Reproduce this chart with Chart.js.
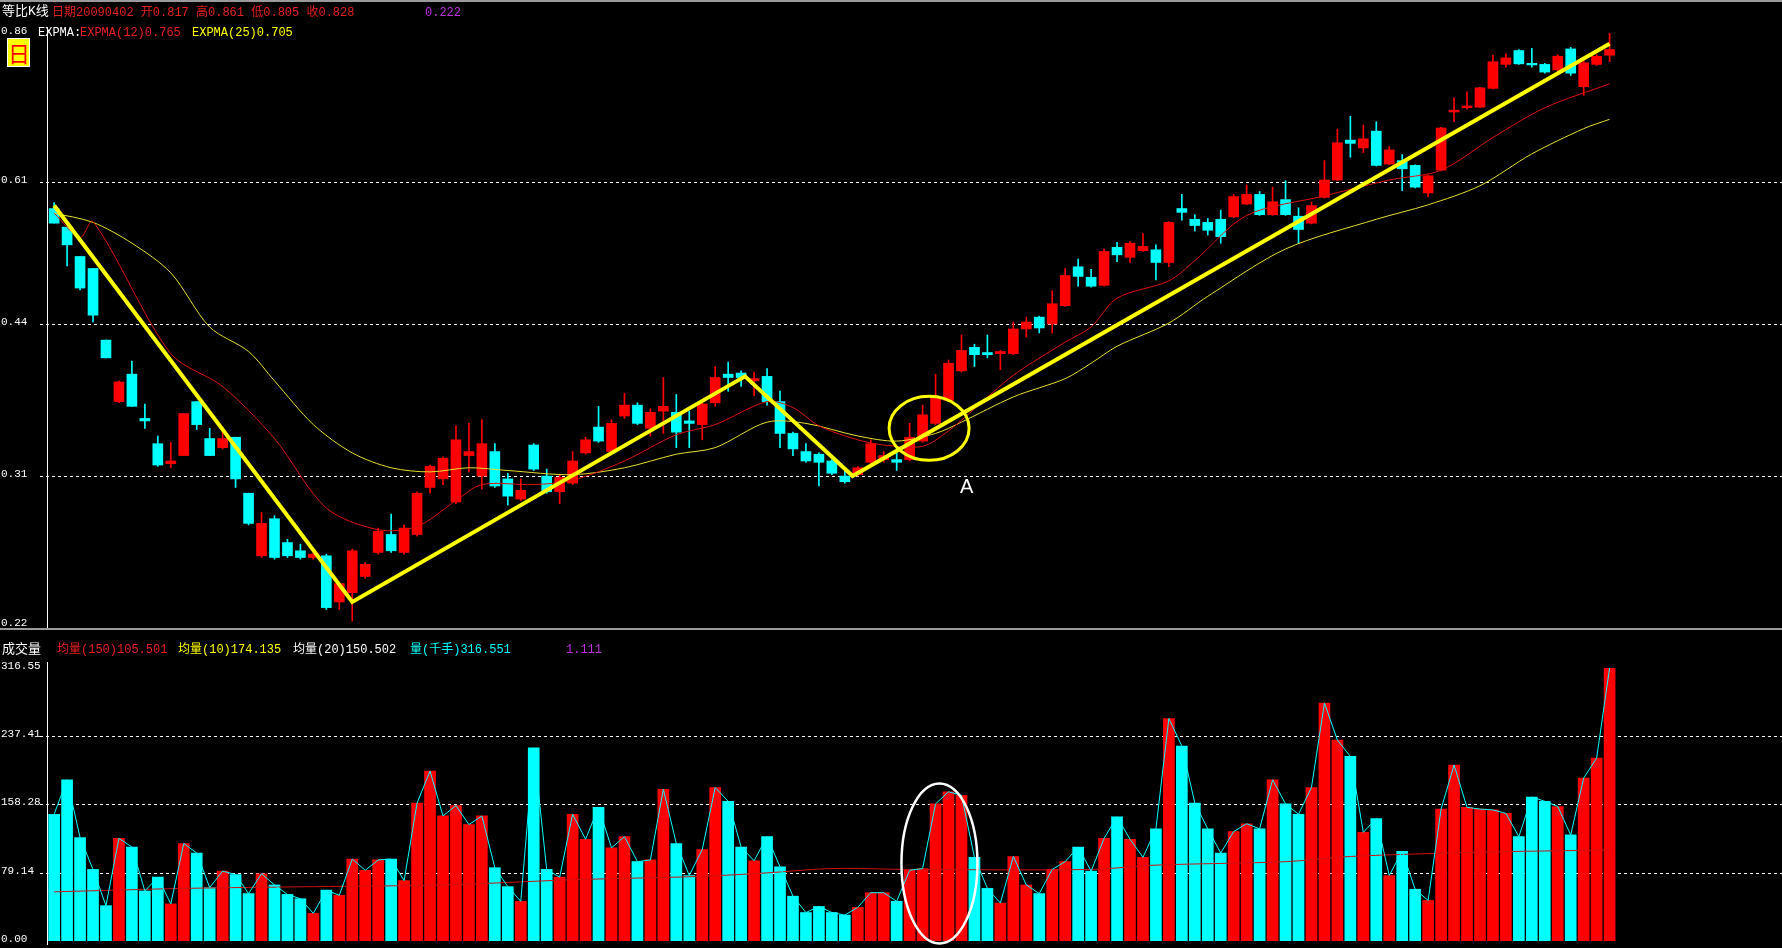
<!DOCTYPE html>
<html><head><meta charset="utf-8">
<script src="https://cdn.jsdelivr.net/npm/chart.js@4"></script>
<style>
html,body{margin:0;padding:0;background:#000;width:1782px;height:948px;overflow:hidden}
#c1{position:absolute;left:0;top:0}
#c2{position:absolute;left:0;top:630px}
.t{position:absolute;font:12px "Liberation Mono","Noto Sans CJK SC",monospace;white-space:pre;line-height:14px}
#sep{position:absolute;left:0;top:628px;width:1782px;height:2px;background:#9a9a9a}
#topb{position:absolute;left:0;top:0;width:1782px;height:2px;background:#9a9a9a}
#ri{position:absolute;left:7px;top:38px;width:21px;height:27px;background:#ffff00;border:1px solid #fff;color:#f00;font:22px "Noto Sans CJK SC";text-align:center;line-height:27px}
</style></head><body>
<canvas id="c1" width="1782" height="630"></canvas>
<canvas id="c2" width="1782" height="318"></canvas>
<div id="topb"></div><div id="sep"></div>
<div class="t" style="left:2px;top:5px;color:#fff;font-size:13px">等比K线</div>
<div class="t" style="left:52px;top:6px;color:#e82020">日期20090402 开0.817 高0.861 低0.805 收0.828</div>
<div class="t" style="left:425px;top:6px;color:#c030e0">0.222</div>
<div class="t" style="left:38px;top:26px;color:#fff">EXPMA:</div>
<div class="t" style="left:80px;top:26px;color:#e82020">EXPMA(12)0.765</div>
<div class="t" style="left:192px;top:26px;color:#ffff00">EXPMA(25)0.705</div>
<div id="ri">日</div>
<div class="t" style="left:2px;top:643px;color:#fff;font-size:13px">成交量</div>
<div class="t" style="left:57px;top:643px;color:#e82020">均量(150)105.501</div>
<div class="t" style="left:178px;top:643px;color:#ffff00">均量(10)174.135</div>
<div class="t" style="left:293px;top:643px;color:#fff">均量(20)150.502</div>
<div class="t" style="left:410px;top:643px;color:#00ffff">量(千手)316.551</div>
<div class="t" style="left:566px;top:643px;color:#c030e0">1.111</div>
<script>
const opens=[0.574,0.550,0.514,0.500,0.424,0.368,0.392,0.354,0.334,0.319,0.325,0.368,0.338,0.331,0.339,0.298,0.258,0.281,0.266,0.261,0.257,0.258,0.232,0.237,0.246,0.260,0.271,0.260,0.271,0.302,0.308,0.292,0.325,0.310,0.328,0.308,0.294,0.333,0.310,0.299,0.305,0.327,0.347,0.328,0.356,0.365,0.346,0.360,0.359,0.352,0.349,0.367,0.392,0.393,0.386,0.390,0.368,0.342,0.328,0.326,0.321,0.310,0.311,0.320,0.322,0.322,0.322,0.336,0.350,0.369,0.395,0.417,0.412,0.411,0.411,0.435,0.447,0.440,0.459,0.502,0.490,0.481,0.525,0.513,0.521,0.522,0.507,0.574,0.560,0.556,0.560,0.563,0.580,0.593,0.566,0.586,0.564,0.555,0.589,0.613,0.672,0.660,0.686,0.636,0.641,0.634,0.595,0.627,0.717,0.724,0.725,0.757,0.800,0.826,0.802,0.800,0.790,0.829,0.760,0.800,0.817];
const closes=[0.555,0.528,0.478,0.449,0.407,0.385,0.364,0.352,0.318,0.321,0.358,0.349,0.325,0.338,0.308,0.278,0.278,0.257,0.258,0.257,0.259,0.229,0.242,0.261,0.253,0.273,0.261,0.275,0.298,0.317,0.323,0.337,0.328,0.334,0.303,0.296,0.300,0.315,0.299,0.309,0.321,0.337,0.336,0.350,0.365,0.350,0.359,0.364,0.343,0.350,0.366,0.389,0.389,0.389,0.388,0.368,0.342,0.330,0.321,0.320,0.312,0.306,0.316,0.334,0.325,0.320,0.339,0.357,0.371,0.402,0.414,0.410,0.410,0.413,0.435,0.442,0.436,0.461,0.492,0.491,0.480,0.520,0.516,0.530,0.526,0.507,0.556,0.569,0.552,0.546,0.538,0.590,0.593,0.566,0.583,0.566,0.547,0.578,0.613,0.668,0.667,0.674,0.634,0.657,0.629,0.603,0.619,0.691,0.720,0.727,0.758,0.805,0.812,0.801,0.799,0.786,0.815,0.784,0.803,0.815,0.828];
const highs=[0.582,0.550,0.514,0.500,0.424,0.386,0.404,0.366,0.340,0.335,0.358,0.368,0.346,0.347,0.339,0.298,0.285,0.283,0.268,0.265,0.260,0.259,0.243,0.262,0.254,0.275,0.284,0.277,0.299,0.318,0.324,0.348,0.350,0.353,0.334,0.312,0.308,0.334,0.315,0.311,0.328,0.339,0.364,0.353,0.375,0.367,0.362,0.389,0.374,0.360,0.369,0.399,0.403,0.395,0.394,0.397,0.377,0.343,0.334,0.327,0.322,0.315,0.317,0.337,0.328,0.331,0.350,0.365,0.392,0.405,0.429,0.420,0.429,0.414,0.442,0.447,0.448,0.475,0.500,0.511,0.499,0.523,0.531,0.532,0.542,0.528,0.557,0.593,0.566,0.561,0.572,0.593,0.606,0.597,0.603,0.612,0.575,0.583,0.641,0.689,0.710,0.696,0.701,0.662,0.650,0.635,0.620,0.692,0.741,0.751,0.759,0.817,0.820,0.828,0.830,0.802,0.818,0.832,0.806,0.818,0.861];
const lows=[0.555,0.503,0.476,0.442,0.407,0.367,0.364,0.346,0.317,0.316,0.325,0.345,0.325,0.330,0.302,0.277,0.257,0.256,0.257,0.256,0.256,0.228,0.228,0.222,0.245,0.259,0.260,0.259,0.270,0.298,0.304,0.291,0.313,0.301,0.302,0.290,0.293,0.314,0.298,0.291,0.304,0.326,0.335,0.327,0.354,0.349,0.340,0.342,0.331,0.331,0.337,0.364,0.377,0.381,0.373,0.365,0.331,0.325,0.320,0.303,0.311,0.305,0.310,0.319,0.320,0.314,0.321,0.335,0.349,0.368,0.394,0.399,0.407,0.396,0.410,0.427,0.431,0.431,0.458,0.480,0.479,0.480,0.508,0.507,0.520,0.487,0.502,0.559,0.545,0.540,0.530,0.562,0.579,0.565,0.565,0.565,0.530,0.554,0.588,0.612,0.646,0.653,0.633,0.635,0.598,0.602,0.590,0.626,0.701,0.722,0.724,0.756,0.795,0.800,0.795,0.784,0.788,0.780,0.745,0.798,0.805];
const volumes=[147,187,120,83,41,119,109,58,74,43,113,102,62,81,77,55,78,65,54,49,32,59,53,95,82,94,95,70,160,197,145,157,135,145,85,63,46,224,83,74,147,118,155,108,121,92,94,176,113,76,106,178,162,109,93,121,86,52,33,40,33,30,39,56,56,46,82,84,159,173,169,97,61,44,98,65,55,83,92,109,81,119,144,118,97,130,258,226,160,130,102,127,136,130,187,159,147,178,276,233,214,126,142,76,104,60,47,153,204,155,153,152,148,121,167,162,156,123,189,212,316.55];
const ema12=[[0,0.568],[2,0.537],[3,0.557],[9,0.411],[13,0.381],[17,0.338],[21,0.288],[25,0.274],[28,0.276],[31,0.293],[33,0.304],[37,0.304],[40,0.307],[44,0.321],[48,0.341],[51,0.349],[55,0.368],[57,0.363],[59,0.348],[62,0.337],[64,0.333],[67,0.332],[69,0.344],[71,0.362],[74,0.391],[78,0.422],[80,0.437],[82,0.467],[86,0.486],[88,0.509],[92,0.565],[98,0.591],[103,0.613],[107,0.627],[111,0.676],[115,0.724],[120,0.765]];
const ema25=[[0,0.568],[3,0.556],[6,0.530],[9,0.495],[12,0.437],[15,0.413],[17,0.386],[20,0.349],[23,0.327],[26,0.316],[29,0.313],[32,0.316],[35,0.314],[40,0.311],[44,0.316],[48,0.326],[51,0.331],[55,0.351],[58,0.350],[62,0.340],[65,0.336],[68,0.342],[70,0.351],[74,0.372],[78,0.388],[80,0.402],[82,0.418],[86,0.441],[89,0.469],[95,0.523],[102,0.560],[106,0.579],[110,0.605],[114,0.651],[118,0.690],[120,0.705]];
const trendPts=[[0,0.578],[23,0.232],[53.3,0.390],[61.6,0.310],[120,0.839]];
const volMa150=[[0,57],[10,61],[20,63],[30,65],[40,71],[50,75],[55,79],[60,84],[66,83],[80,83],[85,88],[95,92],[100,98],[110,103],[120,105.5]];
const priceTicks=[0.22,0.31,0.44,0.61,0.86];
const volTicks=[0,79.14,158.28,237.41,316.55];
const volTickLabels=['0.00','79.14','158.28','237.41','316.55'];

const RED='#ff0000',CYAN='#00ffff',YEL='#ffff00';
const up=opens.map((o,i)=>closes[i]>=o);
const col=up.map(u=>u?RED:CYAN);
const xScale={type:'linear',min:-0.55,max:133.3,display:false,offset:false,bounds:'ticks'};

function gridPlugin(ticks,labels){return{id:'g',beforeDatasetsDraw(ch){const c=ch.ctx,y=ch.scales.y,a=ch.chartArea;c.save();
 c.strokeStyle='#fff';c.lineWidth=1;c.beginPath();c.moveTo(47.5,a.top-6);c.lineTo(47.5,a.bottom+4);c.stroke();
 c.setLineDash([3,3]);c.font='11px "Liberation Mono"';c.fillStyle='#fff';c.textBaseline='middle';
 ticks.forEach((t,i)=>{const py=Math.round(y.getPixelForValue(t))+0.5;
  if(i>0&&i<ticks.length-1){c.beginPath();c.moveTo(40,py);c.lineTo(1782,py);c.stroke();}
  c.fillText(labels[i],1,py-2);});
 c.restore();}};}

function ellipsePlugin(id,cx,cy,rx,ry,color,lw,txt){return{id,afterDatasetsDraw(ch){const c=ch.ctx;const px=ch.scales.x.getPixelForValue(cx),py=ch.scales.y.getPixelForValue(cy);
 c.save();c.strokeStyle=color;c.lineWidth=lw;c.beginPath();c.ellipse(px,py,rx,ry,0,0,Math.PI*2);c.stroke();
 if(txt){c.fillStyle='#fff';c.font='20px "Liberation Sans"';c.textAlign='center';c.fillText(txt[0],ch.scales.x.getPixelForValue(txt[1]),ch.scales.y.getPixelForValue(txt[2]));}
 c.restore();}};}

new Chart(document.getElementById('c1'),{
 data:{datasets:[
  {type:'bar',data:opens.map((o,i)=>({x:i,y:[lows[i],highs[i]]})),backgroundColor:col,barThickness:1,grouped:false,order:3},
  {type:'bar',data:opens.map((o,i)=>({x:i,y:[o,closes[i]]})),backgroundColor:col,barThickness:10,grouped:false,order:2},
  {type:'line',data:ema12.map(p=>({x:p[0],y:p[1]})),borderColor:'#e01010',borderWidth:1,pointRadius:0,tension:0.3,order:1},
  {type:'line',data:ema25.map(p=>({x:p[0],y:p[1]})),borderColor:'#e8e030',borderWidth:1,pointRadius:0,tension:0.3,order:1},
  {type:'line',data:trendPts.map(p=>({x:p[0],y:p[1]})),borderColor:YEL,borderWidth:4,pointRadius:0,order:0}
 ]},
 options:{responsive:false,animation:false,layout:{padding:{left:47,top:33,bottom:5,right:0}},
  plugins:{legend:{display:false},tooltip:{enabled:false}},
  scales:{x:xScale,y:{type:'logarithmic',min:0.22,max:0.86,display:false}}},
 plugins:[gridPlugin(priceTicks,priceTicks.map(String)),ellipsePlugin('e1',67.5,0.346,40,32,YEL,3,['A',70.4,0.298])]
});

new Chart(document.getElementById('c2'),{
 data:{datasets:[
  {type:'bar',data:volumes.map((v,i)=>({x:i,y:v})),backgroundColor:col,barThickness:11,grouped:false,order:3},
  {type:'line',data:volumes.map((v,i)=>({x:i,y:v})),borderColor:CYAN,borderWidth:1,pointRadius:0,order:1},
  {type:'line',data:volMa150.map(p=>({x:p[0],y:p[1]})),borderColor:'#d01010',borderWidth:1,pointRadius:0,tension:0.3,order:1}
 ]},
 options:{responsive:false,animation:false,layout:{padding:{left:47,top:38,bottom:7,right:0}},
  plugins:{legend:{display:false},tooltip:{enabled:false}},
  scales:{x:xScale,y:{type:'linear',min:0,max:316.55,display:false}}},
 plugins:[gridPlugin(volTicks,volTickLabels),ellipsePlugin('e2',68.3,90,38,80,'#fff',2.5)]
});
</script></body></html>
